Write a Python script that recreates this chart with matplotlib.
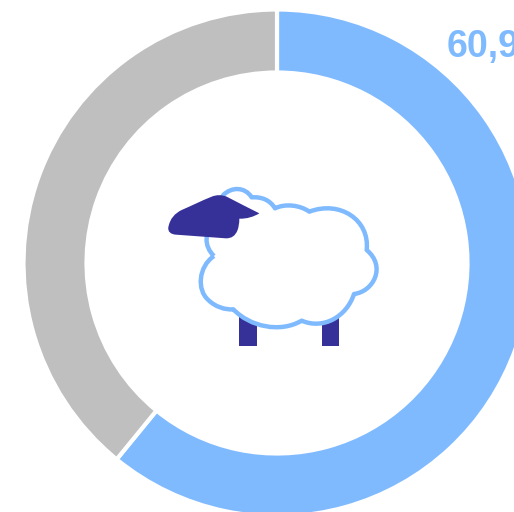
import matplotlib.pyplot as plt
from matplotlib.patches import PathPatch, Rectangle
from matplotlib.path import Path

# values of the ring
shares = [60.9, 39.1]
share_label = "60,9%"
blue = "#7FBAFF"
grey = "#BFBFBF"
navy = "#363199"

W, H = 514, 512
fig = plt.figure(figsize=(W / 100, H / 100), dpi=100)
ax = fig.add_axes([0, 0, 1, 1])

ax.pie(shares, colors=[blue, grey], startangle=90, counterclock=False,
       center=(277, H - 263), radius=253.5,
       wedgeprops=dict(width=63, edgecolor="white", linewidth=3))
ax.set_xlim(0, W)
ax.set_ylim(0, H)
ax.set_aspect("equal")
ax.axis("off")

ax.text(447, H - 57, share_label, color=blue, fontsize=27, fontweight="bold",
        family="Liberation Sans", ha="left", va="baseline")


def px(x, y):
    return (150 + x / 3, H - (170 + y / 3))


def make_path(start, segments):
    verts = [px(*start)]
    codes = [Path.MOVETO]
    for c1, c2, end in segments:
        verts += [px(*c1), px(*c2), px(*end)]
        codes += [Path.CURVE4] * 3
    return Path(verts, codes)


# legs
for left, top in [(267, 435), (515, 445)]:
    x0, y0 = px(left, 528)
    x1, y1 = px(left + 53, top)
    ax.add_patch(Rectangle((x0, y0), x1 - x0, y1 - y0, color=navy, lw=0, zorder=3))

body = make_path((192, 258), [
    ((145, 290), (140, 360), (175, 390)),
    ((195, 410), (225, 420), (250, 418)),
    ((300, 470), (390, 490), (455, 452)),
    ((520, 480), (590, 440), (612, 372)),
    ((670, 365), (710, 290), (650, 240)),
    ((660, 150), (570, 90), (478, 125)),
    ((450, 105), (405, 100), (375, 115)),
    ((360, 90), (335, 80), (305, 82)),
    ((285, 50), (245, 50), (220, 75)),
    ((200, 110), (170, 160), (170, 205)),
    ((168, 225), (178, 245), (192, 258)),
])
ax.add_patch(PathPatch(body, facecolor="white", edgecolor=blue, lw=3.2,
                       joinstyle="round", zorder=4))

head = make_path((55, 172), [
    ((60, 145), (75, 130), (95, 120)),
    ((125, 107), (155, 92), (185, 80)),
    ((200, 74), (215, 74), (230, 80)),
    ((262, 97), (295, 113), (328, 130)),
    ((312, 140), (290, 147), (268, 146)),
    ((268, 160), (266, 172), (262, 182)),
    ((255, 198), (245, 205), (228, 205)),
    ((178, 202), (128, 197), (78, 194)),
    ((62, 193), (53, 185), (55, 172)),
])
ax.add_patch(PathPatch(head, facecolor=navy, edgecolor="none", zorder=5))

fig.savefig("out.png", dpi=100)
